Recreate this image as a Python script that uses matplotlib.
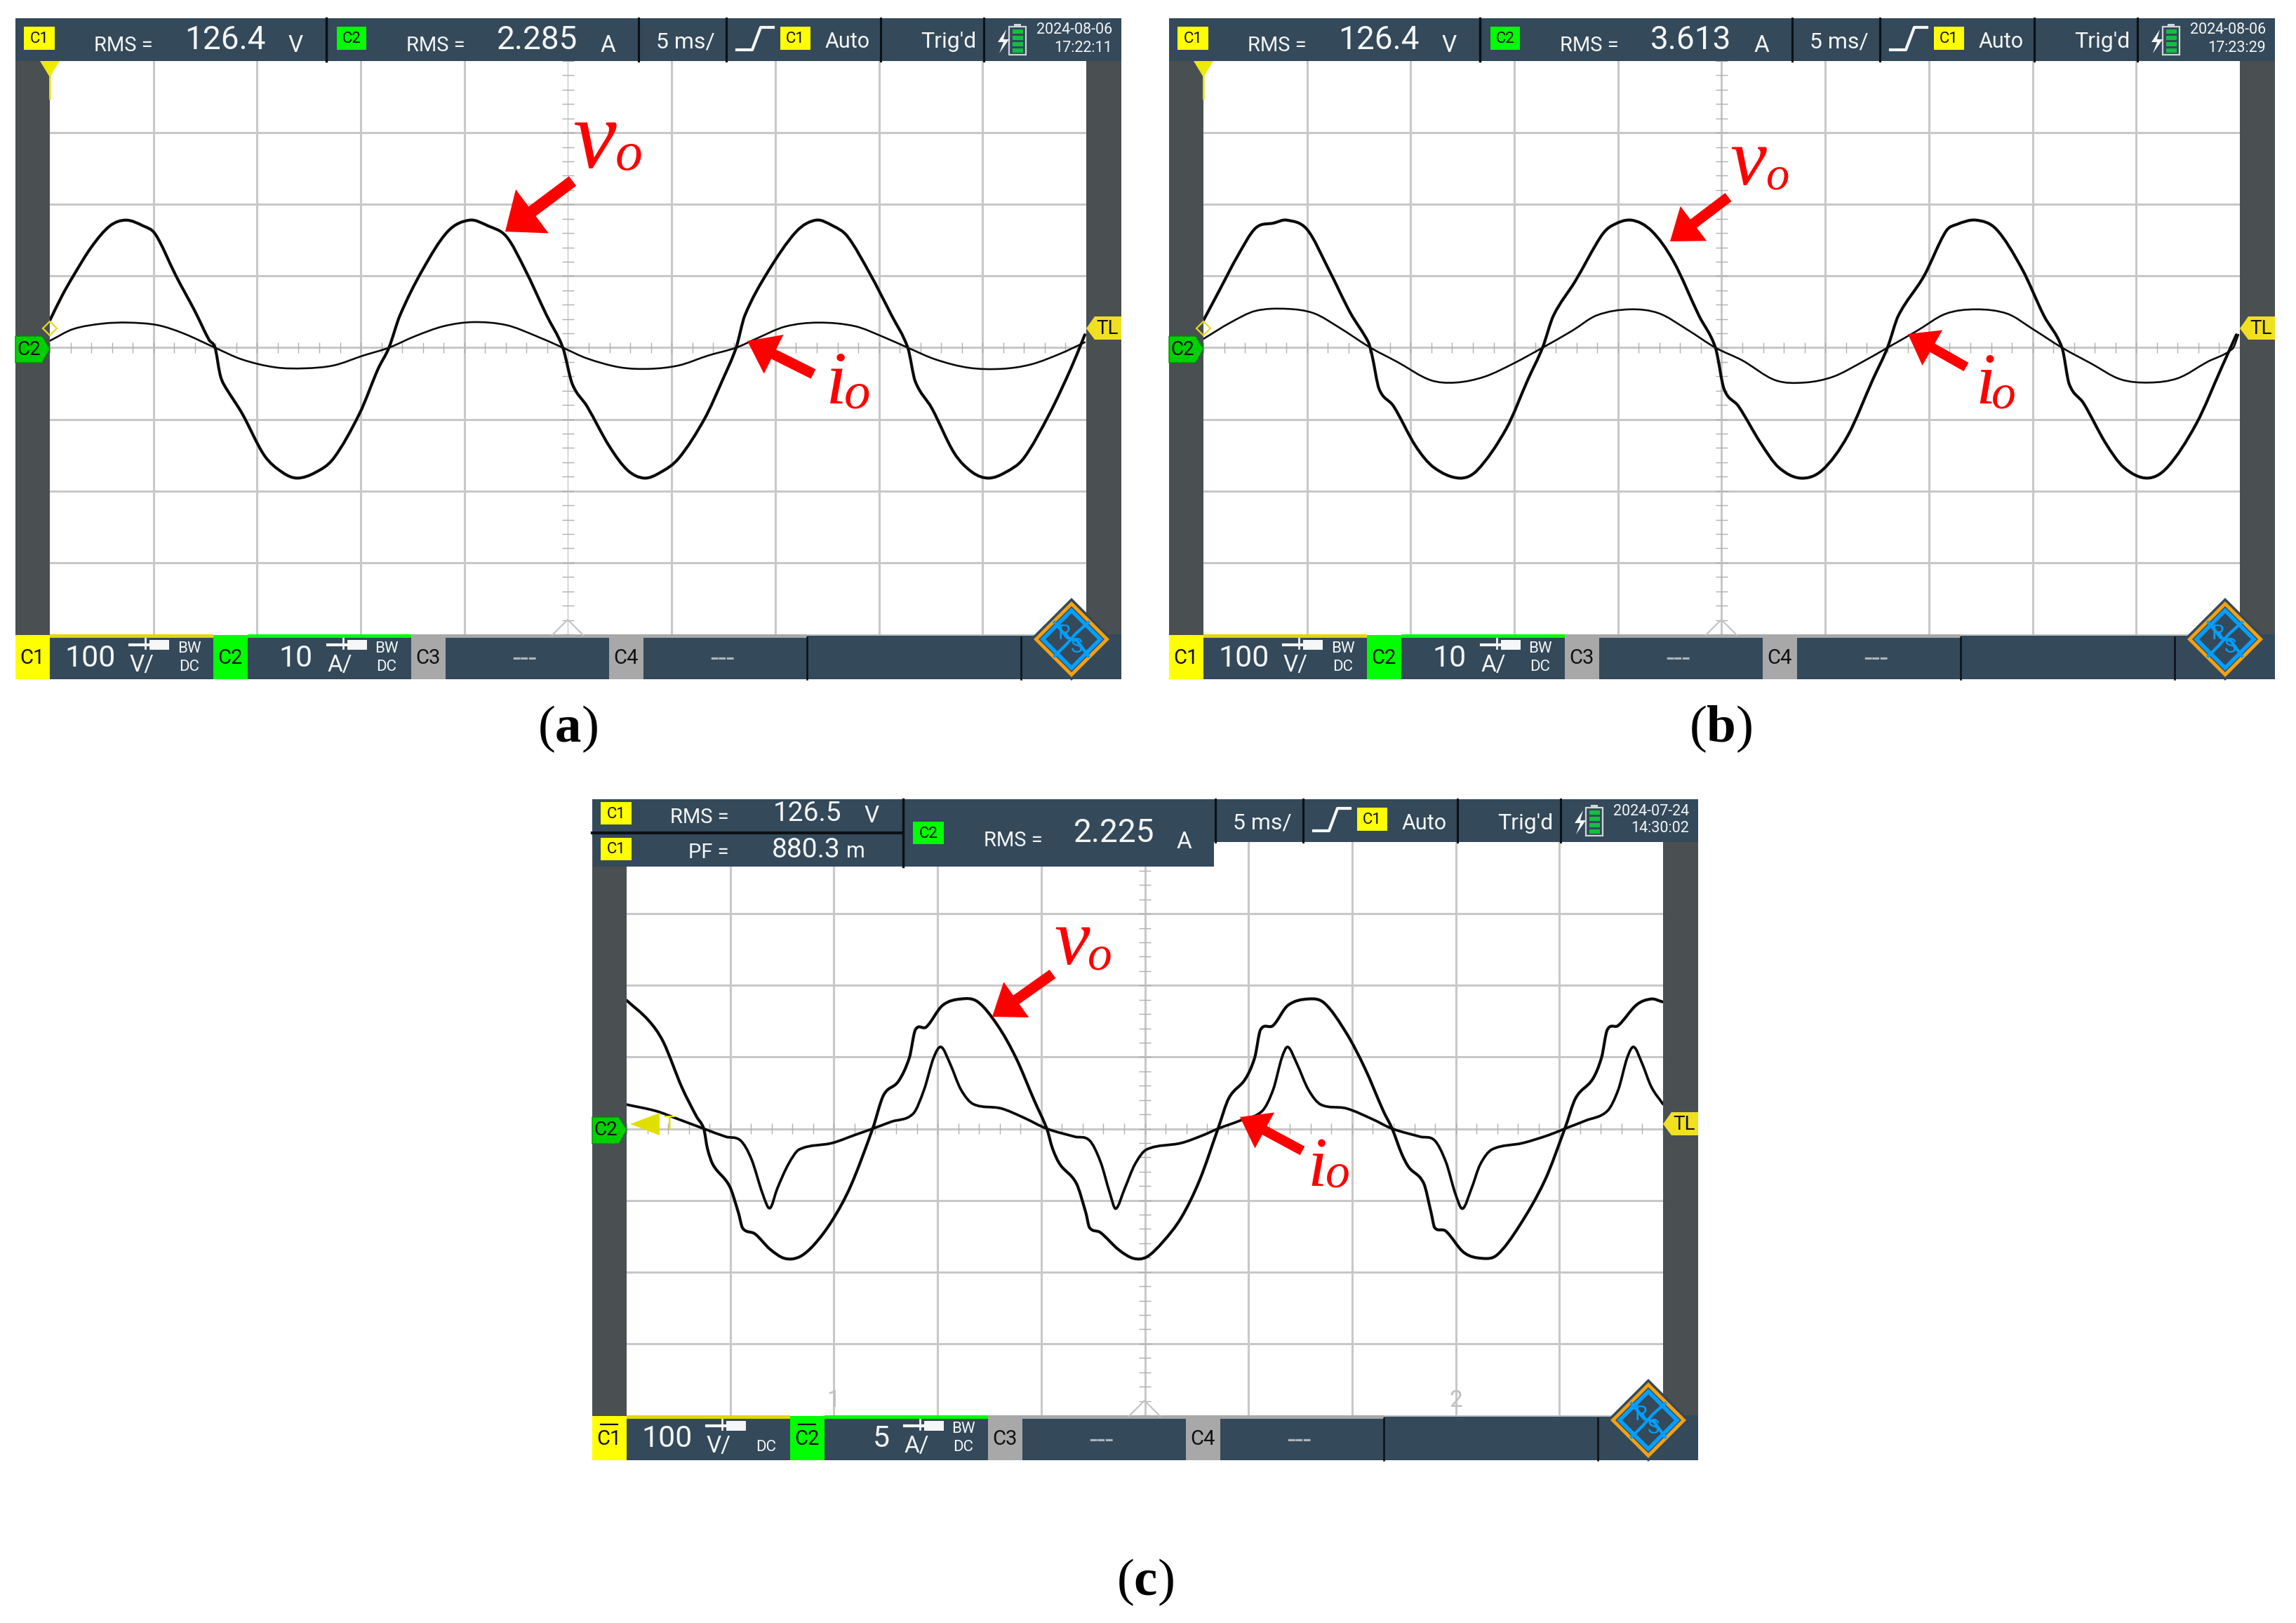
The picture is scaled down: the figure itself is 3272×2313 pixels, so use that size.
import matplotlib
matplotlib.use("Agg")
import matplotlib.pyplot as plt
from matplotlib.patches import Rectangle, Polygon, FancyArrow, PathPatch
from matplotlib.path import Path

plt.rcParams['font.family'] = ['Roboto', 'DejaVu Sans']
plt.rcParams['mathtext.fontset'] = 'custom'
plt.rcParams['mathtext.rm'] = 'Liberation Serif'
plt.rcParams['mathtext.bf'] = 'Liberation Serif:bold'

# ---- waveform data: time (ms), voltage (V), current (A) ----
a_vt = [0,.6,1.13,2.02,2.9,3.68,4.5,5.1,6.09,6.98,7.68,7.97,8.21,8.39,9.28,10.34,11.22,11.93,12.82,13.7,14.94,15.83,16.36,16.89,17.95,19.19,20.25,21.14,22.03,22.91,23.97,24.75,25.21,25.92,26.98,27.87,28.68,29.46,30.35,31.59,32.47,33.11,33.53,34.6,36.01,36.97,37.78,38.49,39.55,40.61,41.39,41.75,42.56,43.63,44.51,45.29,46.1,46.99,48.23,49.29,49.93]
a_v = [38,73,100,141,170,178,170,158,100,52,11,0,-37,-51,-92,-150,-174,-182,-174,-154,-92,-30,0,45,107,162,178,170,155,110,45,0,-51,-82,-137,-171,-182,-174,-154,-99,-44,0,45,104,162,178,170,155,104,45,0,-47,-85,-147,-174,-182,-174,-154,-92,-27,18]
a_it = [0,1.13,2.55,3.79,5.2,6.44,7.97,9.28,10.87,12.29,13.7,15.12,16.36,17.6,19.0,20.43,22.03,23.44,24.75,25.92,27.5,28.93,30.35,31.76,33.11,34.06,35.48,37.07,38.84,40.26,41.39,42.74,44.33,45.93,47.34,48.76,49.93]
a_i = [.96,2.6,3.36,3.5,3.15,2.0,0,-1.65,-2.74,-2.88,-2.47,-1.1,0,1.58,3.0,3.57,3.15,1.65,0,-1.5,-2.74,-2.95,-2.47,-1.1,0,1.23,2.95,3.5,3.0,1.44,0,-1.65,-2.8,-2.95,-2.33,-.82,.75]

b_vt = [0,.77,1.65,2.52,3.4,4.03,5.0,6.03,7.08,7.95,8.13,8.48,9.18,10.23,11.11,12.33,13.21,14.61,15.66,16.36,16.89,17.94,19.17,19.69,20.64,21.62,22.67,23.9,24.7,25.12,25.82,26.88,27.75,28.8,29.85,31.08,32.3,33.0,33.53,34.76,35.81,36.34,37.28,38.26,39.49,40.54,41.42,41.77,42.47,43.52,44.4,45.52,46.5,47.9,49.13,49.83]
b_v = [38,80,128,167,174,178,165,110,49,8,-10,-58,-82,-137,-167,-182,-171,-113,-44,0,45,93,155,170,178,163,121,45,0,-58,-82,-133,-167,-182,-171,-123,-44,0,45,100,162,172,178,165,110,45,0,-51,-78,-133,-167,-182,-167,-106,-27,18]
b_it = [0,1.3,2.52,4.03,5.33,6.55,8.06,9.36,10.93,12.16,13.56,14.96,16.36,17.77,18.99,20.57,21.97,23.37,24.7,26.0,27.58,28.98,30.38,31.78,33.0,34.41,35.81,37.28,38.79,40.01,41.42,42.82,44.22,45.62,47.02,48.42,49.65,49.93]
b_i = [1.23,3.5,5.14,5.42,4.8,2.81,0,-2.0,-4.5,-4.87,-4.05,-2.2,0,2.33,4.53,5.35,4.8,2.47,0,-1.78,-4.53,-4.87,-4.05,-2.0,0,2.33,4.73,5.35,4.73,2.6,0,-2.2,-4.39,-4.87,-4.25,-2,-.14,1.8]

c_vt = [0,1.06,1.77,2.66,3.37,3.72,3.9,4.18,4.96,5.39,5.6,6.2,6.91,7.62,8.33,9.04,9.92,10.81,11.87,12.4,13.11,13.64,13.93,14.46,15.24,16.13,16.94,17.9,18.78,19.67,20.27,20.55,20.91,21.69,22.15,22.33,22.86,23.74,24.45,25.09,25.87,26.76,27.64,28.53,29.06,29.84,30.3,30.58,31.19,31.9,32.89,33.67,34.73,35.62,36.5,36.93,37.39,37.74,38.45,38.81,38.98,39.52,40.4,41.29,42.0,43.06,44.3,45.26,45.79,46.6,47.03,47.31,47.84,48.73,49.44,49.97]
c_v = [179,151,121,58,17,0,-28,-51,-80,-117,-139,-147,-168,-181,-179,-162,-128,-80,0,47,66,99,138,142,172,181,177,144,99,39,0,-28,-50,-76,-117,-138,-145,-169,-181,-179,-158,-124,-72,0,43,69,99,138,144,172,181,175,133,84,25,0,-35,-54,-76,-117,-138,-143,-173,-181,-176,-136,-72,0,43,69,99,138,144,173,181,177]
c_it = [0,1.42,2.48,3.72,4.78,5.49,6.02,6.56,6.91,7.27,7.8,8.33,9.92,10.99,11.87,12.76,13.82,14.35,14.81,15.17,15.59,16.13,16.73,18.07,19.14,20.27,21.62,22.33,22.86,23.32,23.6,24.03,24.52,25.09,26.76,27.82,28.53,29.59,30.66,31.19,31.61,31.9,32.32,32.89,33.49,34.73,35.97,36.93,38.28,38.98,39.52,39.98,40.33,40.76,41.18,41.75,43.24,44.48,45.26,46.26,47.31,47.84,48.27,48.59,48.98,49.44,50]
c_i = [1.68,1.23,.67,0,-.56,-.82,-2.12,-4.54,-5.55,-4.17,-2.49,-1.45,-1.0,-.45,0,.48,1.04,2.72,4.95,5.7,4.58,2.72,1.71,1.41,.78,0,-.56,-.82,-2.31,-4.54,-5.58,-4.17,-2.49,-1.45,-1.0,-.45,0,.56,1.23,2.72,4.95,5.7,4.58,2.72,1.68,1.41,.67,0,-.56,-.82,-2.31,-4.54,-5.58,-4.17,-2.49,-1.45,-1.0,-.45,0,.56,1.23,2.72,4.95,5.7,4.58,2.9,1.71]

DARK = '#34495a'
GUT = '#4a4f52'
YEL = '#ffff00'
GRN = '#00ff00'
GREY = '#a8a8a8'
GRID = '#c8c8c8'
RED = '#ff0000'
WHITE = '#f4f6f7'

W, H = 3273, 2313
fig = plt.figure(figsize=(W / 100, H / 100), dpi=100, facecolor='white')


def overlay(z):
    ax = fig.add_axes([0, 0, 1, 1], zorder=z)
    ax.set_xlim(0, W)
    ax.set_ylim(H, 0)
    ax.axis('off')
    ax.patch.set_alpha(0)
    return ax


bg = overlay(0)
fg = overlay(3)


def rect(ax, x0, y0, x1, y1, c, z=1):
    ax.add_patch(Rectangle((x0, y0), x1 - x0, y1 - y0, fc=c, ec='none', zorder=z))


def txt(ax, x, y, s, size, color=WHITE, ha='left', va='center', z=5, **kw):
    ax.text(x, y, s, fontsize=size, color=color, ha=ha, va=va, zorder=z, **kw)


def chbox(ax, x0, y0, x1, y1, c, s, size=16):
    rect(ax, x0, y0, x1, y1, c, 3)
    txt(ax, (x0 + x1) / 2, (y0 + y1) / 2 + 1, s, size, color='#101010', ha='center')


def right_status(ax, dx, dy, date, time):
    for x in (1035, 1255, 1402):
        ax.plot([x + dx] * 2, [26 + dy, 87 + dy], color='#0c1014', lw=2.2, zorder=3)
    txt(ax, 935 + dx, 60 + dy, '5 ms/', 23)
    ax.plot([1050 + dx, 1072 + dx, 1084 + dx, 1102 + dx], [71 + dy, 71 + dy, 39 + dy, 39 + dy],
            color=WHITE, lw=3, zorder=4)
    chbox(ax, 1112 + dx, 38 + dy, 1155 + dx, 71 + dy, YEL, 'C1')
    txt(ax, 1176 + dx, 60 + dy, 'Auto', 22)
    txt(ax, 1312 + dx, 60 + dy, "Trig'd", 23)
    # battery
    ax.add_patch(Rectangle((1438 + dx, 38 + dy), 24, 40, fc='none', ec='#cfd6da', lw=1.6, zorder=4))
    rect(ax, 1445 + dx, 34 + dy, 1455 + dx, 38 + dy, '#cfd6da', 4)
    for k in range(4):
        rect(ax, 1443 + dx, (42 + 9 * k) + dy, 1458 + dx, (48 + 9 * k) + dy, '#12c040', 5)
    ax.add_patch(Polygon([(1434 + dx, 42 + dy), (1422 + dx, 60 + dy), (1430 + dx, 60 + dy), (1424 + dx, 76 + dy),
                          (1438 + dx, 56 + dy), (1430 + dx, 56 + dy)], fc=WHITE, ec='none', zorder=6))
    txt(ax, 1585 + dx, 43 + dy, date, 15.5, ha='right')
    txt(ax, 1585 + dx, 68 + dy, time, 15.5, ha='right')


def top_single(ax, dx, dy, v1, v2):
    rect(ax, 22 + dx, 26 + dy, 1598 + dx, 87 + dy, DARK)
    ax.plot([465 + dx] * 2, [26 + dy, 87 + dy], color='#0c1014', lw=2.5, zorder=3)
    ax.plot([910 + dx] * 2, [26 + dy, 87 + dy], color='#0c1014', lw=2.2, zorder=3)
    chbox(ax, 34 + dx, 38 + dy, 78 + dx, 71 + dy, YEL, 'C1')
    txt(ax, 134 + dx, 65 + dy, 'RMS =', 21)
    txt(ax, 263 + dx, 57 + dy, v1, 33)
    txt(ax, 411 + dx, 65 + dy, 'V', 24)
    chbox(ax, 480 + dx, 38 + dy, 522 + dx, 71 + dy, GRN, 'C2')
    txt(ax, 579 + dx, 65 + dy, 'RMS =', 21)
    txt(ax, 708 + dx, 57 + dy, v2, 33)
    txt(ax, 856 + dx, 65 + dy, 'A', 24)


def top_double(ax, dx, dy):
    rect(ax, 22 + dx, 26 + dy, 1598 + dx, 87 + dy, DARK)
    rect(ax, 23 + dx, 87 + dy, 908 + dx, 122 + dy, DARK)
    ax.plot([22 + dx, 465 + dx], [74 + dy] * 2, color='#0c1014', lw=3, zorder=3)
    ax.plot([465 + dx] * 2, [26 + dy, 122 + dy], color='#0c1014', lw=2.5, zorder=3)
    ax.plot([910 + dx] * 2, [26 + dy, 87 + dy], color='#0c1014', lw=2.2, zorder=3)
    chbox(ax, 34 + dx, 30 + dy, 78 + dx, 62 + dy, YEL, 'C1')
    chbox(ax, 34 + dx, 81 + dy, 78 + dx, 113 + dy, YEL, 'C1')
    txt(ax, 133 + dx, 52 + dy, 'RMS =', 21)
    txt(ax, 280 + dx, 47 + dy, '126.5', 28)
    txt(ax, 410 + dx, 50 + dy, 'V', 24)
    txt(ax, 159 + dx, 102 + dy, 'PF =', 21)
    txt(ax, 278 + dx, 98 + dy, '880.3', 28)
    txt(ax, 384 + dx, 100 + dy, 'm', 22)
    chbox(ax, 479 + dx, 58 + dy, 523 + dx, 90 + dy, GRN, 'C2')
    txt(ax, 580 + dx, 85 + dy, 'RMS =', 21)
    txt(ax, 708 + dx, 74 + dy, '2.225', 33)
    txt(ax, 855 + dx, 87 + dy, 'A', 24)


def probe(ax, x, y):
    rect(ax, x + 28, y, x + 56, y + 14, WHITE, 4)
    ax.plot([x, x + 28], [y + 7, y + 7], color=WHITE, lw=3, zorder=4)
    ax.plot([x + 22, x + 22], [y - 2, y + 12], color=WHITE, lw=2, zorder=4)


def bottom(ax, dx, dy, label2, bw1=True, bars=False):
    rect(ax, 22 + dx, 909 + dy, 1598 + dx, 968 + dy, DARK)
    rect(ax, 71 + dx, 904 + dy, 304 + dx, 909 + dy, '#e0d800', 2)
    rect(ax, 353 + dx, 904 + dy, 586 + dx, 909 + dy, GRN, 2)
    rect(ax, 586 + dx, 904 + dy, 1150 + dx, 909 + dy, GREY, 2)
    rect(ax, 1150 + dx, 904 + dy, 1598 + dx, 909 + dy, DARK, 2)
    rect(ax, 1150 + dx, 904 + dy, 1548 + dx, 906 + dy, '#b8bec2', 2)
    for x0, c, s in ((22, YEL, 'C1'), (304, GRN, 'C2'), (586, GREY, 'C3'), (868, GREY, 'C4')):
        rect(ax, x0 + dx, 905 + dy, x0 + 49 + dx, 968 + dy, c, 3)
        txt(ax, x0 + 24 + dx, 938 + dy, s, 21, color='#101010', ha='center')
        if bars and s in ('C1', 'C2'):
            ax.plot([x0 + 12 + dx, x0 + 36 + dx], [917 + dy] * 2, color='#101010', lw=1.6, zorder=5)
    txt(ax, 92 + dx, 938 + dy, '100', 31)
    txt(ax, 185 + dx, 948 + dy, 'V/', 24)
    probe(ax, 185 + dx, 912 + dy)
    if bw1:
        txt(ax, 270 + dx, 924 + dy, 'BW', 16, ha='center')
    txt(ax, 270 + dx, 950 + dy, 'DC', 16, ha='center')
    txt(ax, 446 + dx, 938 + dy, label2, 31, ha='right')
    txt(ax, 467 + dx, 948 + dy, 'A/', 24)
    probe(ax, 467 + dx, 912 + dy)
    txt(ax, 551 + dx, 924 + dy, 'BW', 16, ha='center')
    txt(ax, 551 + dx, 950 + dy, 'DC', 16, ha='center')
    txt(ax, 748 + dx, 940 + dy, '---', 30, color='#aeb4b8', ha='center')
    txt(ax, 1030 + dx, 940 + dy, '---', 30, color='#aeb4b8', ha='center')
    for x in (1150, 1455):
        ax.plot([x + dx] * 2, [908 + dy, 968 + dy], color='#0c1014', lw=1.8, zorder=3)


def logo(ax, dx, dy):
    cx, cy = 1527 + dx, 911 + dy
    for h, c, z in ((59, DARK, 5), (54, '#f5a010', 6), (47, DARK, 7), (45, '#009fff', 8), (37, DARK, 9)):
        ax.add_patch(Polygon([(cx, cy - h), (cx + h, cy), (cx, cy + h), (cx - h, cy)], fc=c, ec='none', zorder=z))
    ax.plot([cx + 24, cx + 6, cx - 8, cx - 24], [cy - 24, cy - 8, cy + 8, cy + 24], color='#009fff', lw=3, zorder=10)
    ax.plot([cx - 24, cx - 6, cx + 8, cx + 24], [cy - 24, cy - 2, cy + 2, cy + 24], color='#009fff', lw=3, zorder=10)
    txt(ax, cx - 10, cy - 8, 'R', 21, color='#009fff', ha='center', z=11)
    txt(ax, cx + 8, cy + 11, 'S', 21, color='#009fff', ha='center', z=11)


def markers(ax, dx, dy, first=True, tl_y=468):
    if first:
        ax.add_patch(Polygon([(57 + dx, 87 + dy), (85 + dx, 87 + dy), (71 + dx, 110 + dy)], fc='#ecec00', ec='none', zorder=5))
        ax.plot([71 + dx] * 2, [108 + dy, 140 + dy], color='#e8e830', lw=2, zorder=5)
        ax.plot([71 + dx], [468 + dy], marker='D', ms=10, mfc='none', mec='#e8d820', mew=1.6, zorder=5)
    ax.add_patch(Polygon([(22 + dx, 479 + dy), (60 + dx, 479 + dy), (71 + dx, 497 + dy), (60 + dx, 517 + dy), (22 + dx, 517 + dy)],
                         fc='#00d000', ec='#008a00', lw=1, zorder=5))
    txt(ax, 41 + dx, 498 + dy, 'C2', 20, color='#101010', ha='center', z=6)
    t = tl_y + dy
    ax.add_patch(Polygon([(1598 + dx, t - 17), (1560 + dx, t - 17), (1548 + dx, t), (1560 + dx, t + 16), (1598 + dx, t + 16)],
                         fc='#f0e020', ec='none', zorder=5))
    txt(ax, 1578 + dx, t, 'TL', 20, color='#101010', ha='center', z=6)
    ax.plot([787 + dx, 809 + dx, 831 + dx], [905 + dy, 883 + dy, 905 + dy], color='#c4c4c4', lw=1.6, zorder=5)


def red_arrow(ax, tail, tip, hw=78, hl=48, w=17):
    ax.add_patch(FancyArrow(tail[0], tail[1], tip[0] - tail[0], tip[1] - tail[1], width=w, head_width=hw,
                            head_length=hl, length_includes_head=True, fc=RED, ec='none', zorder=8))


def red_sym(ax, x, y, s, size, xo, yo, size_o):
    txt(ax, x, y, s, size, color=RED, va='baseline', family='Liberation Serif', style='italic', z=9)
    txt(ax, xo, yo, 'o', size_o, color=RED, va='baseline', family='Liberation Serif', style='italic', z=9)


def trace(ax, t, y, lw):
    """Stroke the read points as one smooth curve passing through each of them."""
    n = len(t)
    slope = []
    for k in range(n):
        a, b = max(k - 1, 0), min(k + 1, n - 1)
        slope.append((y[b] - y[a]) / (t[b] - t[a]))
    verts, codes = [(t[0], y[0])], [Path.MOVETO]
    for k in range(n - 1):
        h = (t[k + 1] - t[k]) / 3
        verts += [(t[k] + h, y[k] + slope[k] * h), (t[k + 1] - h, y[k + 1] - slope[k + 1] * h), (t[k + 1], y[k + 1])]
        codes += [Path.CURVE4] * 3
    ax.add_patch(PathPatch(Path(verts, codes), fc='none', ec='#0a0a0a', lw=lw, zorder=3, capstyle='round', joinstyle='round'))


def scope(dx, dy, vt, v, it, i, amax, thin_centre, ilw):
    left, top, wid, hgt = (71 + dx) / W, 1 - (904 + dy) / H, 1477 / W, 817 / H
    ax = fig.add_axes([left, top, wid, hgt], zorder=1)
    ax.patch.set_alpha(0)
    ax.set_xlim(0, 50)
    ax.set_ylim(-400, 400)
    for s in ax.spines.values():
        s.set_visible(False)
    ax.set_xticks(range(5, 50, 5))
    ax.set_yticks(range(-300, 400, 100))
    ax.tick_params(length=0, labelbottom=False, labelleft=False)
    ax.grid(True, color=GRID, lw=2.2, zorder=0)
    ax.set_axisbelow(True)
    for g, t in zip(ax.get_xgridlines(), range(5, 50, 5)):
        if t == 25 and thin_centre:
            g.set_linewidth(1.0)
    ax.vlines(list(range(0, 51)), -7, 7, color='#b0b0b0', lw=1, zorder=1)
    ax.hlines([k * 20 for k in range(-20, 21)], 24.7, 25.3, color='#b0b0b0', lw=1, zorder=1)
    trace(ax, vt, v, 3.0)
    ax2 = ax.twinx()
    ax2.set_zorder(2)
    ax2.patch.set_alpha(0)
    ax2.set_xlim(0, 50)
    ax2.set_ylim(-amax, amax)
    ax2.axis('off')
    trace(ax2, it, i, ilw)


PANELS = [
    (0, 0, a_vt, a_v, a_it, a_i, 40, True, 1.9),
    (1644, 0, b_vt, b_v, b_it, b_i, 40, False, 1.9),
    (822, 1113, c_vt, c_v, c_it, c_i, 20, False, 2.7),
]

for dx, dy, vt, v, it, i, amax, thin, ilw in PANELS:
    rect(bg, 22 + dx, 87 + dy, 71 + dx, 905 + dy, GUT)
    rect(bg, 1548 + dx, 87 + dy, 1598 + dx, 905 + dy, GUT)
    scope(dx, dy, vt, v, it, i, amax, thin, ilw)

top_single(fg, 0, 0, '126.4', '2.285')
right_status(fg, 0, 0, '2024-08-06', '17:22:11')
bottom(fg, 0, 0, '10')
logo(fg, 0, 0)
markers(fg, 0, 0)

top_single(fg, 1644, 0, '126.4', '3.613')
right_status(fg, 1644, 0, '2024-08-06', '17:23:29')
bottom(fg, 1644, 0, '10')
logo(fg, 1644, 0)
markers(fg, 1644, 0)

top_double(fg, 822, 1113)
right_status(fg, 822, 1113, '2024-07-24', '14:30:02')
bottom(fg, 822, 1113, '5', bw1=False, bars=True)
logo(fg, 822, 1113)
markers(fg, 822, 1113, first=False, tl_y=489)
fg.add_patch(Polygon([(898, 1602), (940, 1586), (940, 1618)], fc='#e0e000', ec='none', zorder=5))
txt(fg, 945, 1602, 'T', 20, color='#e0e000')
txt(fg, 1188, 1996, '1', 24, color='#c0c0c0', ha='center', z=2)
txt(fg, 2075, 1996, '2', 24, color='#c0c0c0', ha='center', z=2)

# red arrows and symbols
red_arrow(fg, (816, 258), (720, 330))
red_arrow(fg, (1159, 533), (1065, 486), 62, 42, 15)
red_arrow(fg, (2463, 281), (2380, 344), 62, 42, 15)
red_arrow(fg, (2802, 523), (2719, 476), 58, 40, 14)
red_arrow(fg, (1500, 1388), (1414, 1449), 62, 42, 15)
red_arrow(fg, (1856, 1640), (1767, 1592), 58, 40, 14)
red_sym(fg, 816, 239, 'v', 100, 877, 242, 56)
red_sym(fg, 1177, 575, 'i', 78, 1203, 582, 54)
red_sym(fg, 2465, 263, 'v', 84, 2516, 270, 48)
red_sym(fg, 2815, 575, 'i', 74, 2838, 582, 50)
red_sym(fg, 1502, 1374, 'v', 82, 1550, 1382, 50)
red_sym(fg, 1863, 1689, 'i', 72, 1889, 1691, 50)

# captions
for x, y, s in ((809, 1039, 'a'), (2452, 1039, 'b'), (1632, 2255, 'c')):
    fg.text(x, y, r'($\mathbf{%s}$)' % s, fontsize=54, color='black', ha='center', va='center',
            family='Liberation Serif')

fig.savefig('out.png', dpi=100)
